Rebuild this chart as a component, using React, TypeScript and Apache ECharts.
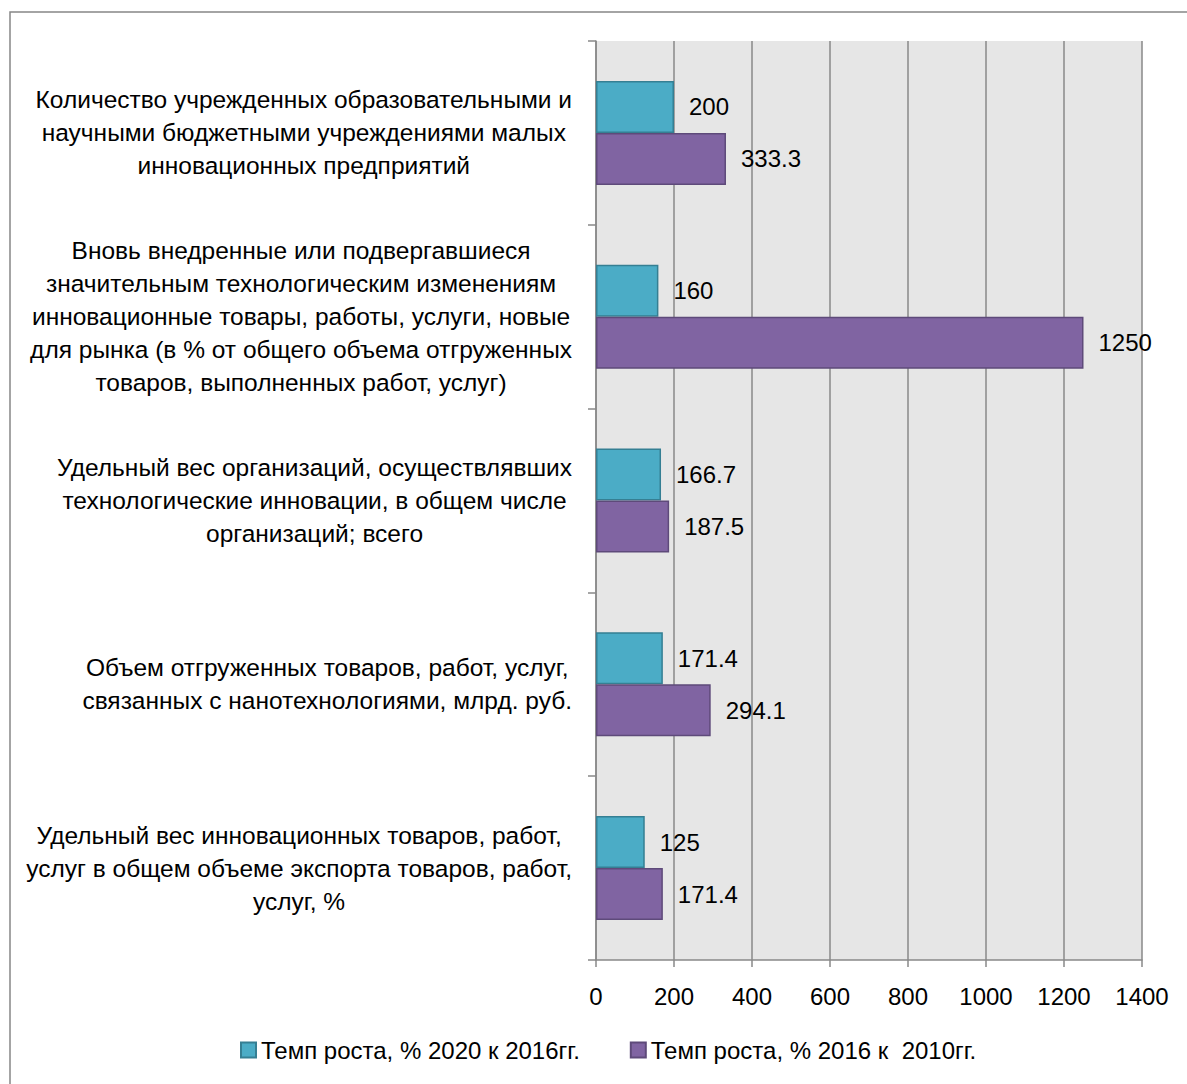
import React, { useEffect, useRef } from "react";
import * as echarts from "echarts";

const categories = [
  "Количество учрежденных образовательными и\nнаучными бюджетными учреждениями малых\nинновационных предприятий",
  "Вновь внедренные или подвергавшиеся\nзначительным технологическим изменениям\nинновационные товары, работы, услуги, новые\nдля рынка (в % от общего объема отгруженных\nтоваров, выполненных работ, услуг)",
  "Удельный вес организаций, осуществлявших\nтехнологические инновации, в общем числе\nорганизаций; всего",
  "Объем отгруженных товаров, работ, услуг,\nсвязанных с нанотехнологиями, млрд. руб.",
  "Удельный вес инновационных товаров, работ,\nуслуг в общем объеме экспорта товаров, работ,\nуслуг, %",
];
const seriesNames = ["Темп роста, % 2020 к 2016гг.", "Темп роста, % 2016 к  2010гг."];
const growth2020vs2016 = [200, 160, 166.7, 171.4, 125];
const growth2016vs2010 = [333.3, 1250, 187.5, 294.1, 171.4];
const xTicks = { min: 0, max: 1400, interval: 200 };

const FONT = "'Liberation Sans', Arial, sans-serif";

export default function App() {
  const ref = useRef<HTMLDivElement>(null);
  useEffect(() => {
    document.body.style.margin = "0";
    const chart = echarts.init(ref.current!, null, { renderer: "svg" });
    const grayLine = "#898989";
    chart.setOption({
      animation: false,
      backgroundColor: "#ffffff",
      textStyle: { fontFamily: FONT },
      graphic: [
        {
          type: "rect",
          shape: { x: 10, y: 12, width: 1200, height: 1100 },
          style: { fill: "none", stroke: "#878787", lineWidth: 1.5 },
          silent: true,
        },
      ],
      grid: {
        left: 596,
        right: 45,
        top: 41,
        bottom: 124,
        show: true,
        backgroundColor: "#e6e6e6",
        borderWidth: 0,
      },
      legend: {
        data: seriesNames,
        left: 235,
        top: 1033,
        itemWidth: 15,
        itemHeight: 15,
        itemGap: 50,
        icon: "rect",
        textStyle: { fontSize: 24, color: "#000", fontFamily: FONT },
      },
      xAxis: {
        type: "value",
        min: xTicks.min,
        max: xTicks.max,
        interval: xTicks.interval,
        axisLine: { show: true, lineStyle: { color: grayLine, width: 1.5 } },
        axisTick: { show: true, length: 7, lineStyle: { color: grayLine, width: 1.5 } },
        axisLabel: {
          fontSize: 24,
          color: "#000",
          margin: 24,
          fontFamily: FONT,
          formatter: (v: number) => String(v),
        },
        splitLine: { show: true, lineStyle: { color: grayLine, width: 1.5 } },
      },
      yAxis: {
        type: "category",
        data: categories,
        inverse: true,
        axisLine: { show: true, lineStyle: { color: grayLine, width: 1.5 } },
        axisTick: { show: true, length: 8, lineStyle: { color: grayLine, width: 1.5 } },
        axisLabel: {
          align: "right",
          margin: 24,
          formatter: (v: string) =>
            v
              .split("\n")
              .map((l) => "{c|" + l + "}")
              .join("\n"),
          rich: {
            c: {
              align: "center",
              fontSize: 24.5,
              lineHeight: 33,
              color: "#000",
              fontFamily: FONT,
            },
          },
        },
        splitLine: { show: false },
      },
      series: [
        {
          name: seriesNames[0],
          type: "bar",
          data: growth2020vs2016,
          barWidth: 52,
          barGap: "0%",
          itemStyle: { color: "#4bacc6", borderColor: "#357f93", borderWidth: 1.5 },
          label: {
            show: true,
            position: "right",
            distance: 15,
            fontSize: 24,
            color: "#000",
            fontFamily: FONT,
          },
        },
        {
          name: seriesNames[1],
          type: "bar",
          data: growth2016vs2010,
          barWidth: 52,
          barGap: "0%",
          itemStyle: { color: "#8064a2", borderColor: "#5e4a7a", borderWidth: 1.5 },
          label: {
            show: true,
            position: "right",
            distance: 15,
            fontSize: 24,
            color: "#000",
            fontFamily: FONT,
          },
        },
      ],
    });
    return () => chart.dispose();
  }, []);
  return <div ref={ref} style={{ width: 1187, height: 1084 }} />;
}
